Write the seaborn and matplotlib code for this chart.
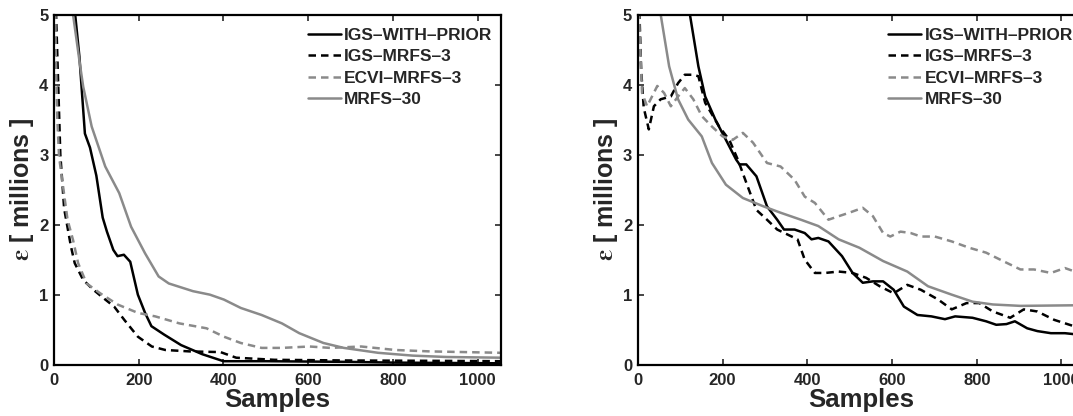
import numpy as np
import pandas as pd
import matplotlib
matplotlib.use('Agg')
import matplotlib.pyplot as plt
import seaborn as sns

# ---- data (values in millions) ----
series_names = ['IGS–WITH–PRIOR', 'IGS–MRFS–3', 'ECVI–MRFS–3', 'MRFS–30']

# left panel
left_igs_prior_x = [40, 50, 60, 73, 85, 100, 115, 125, 140, 150, 165, 180, 198, 215, 230, 260, 300, 350, 400, 500, 700, 800, 1055]
left_igs_prior_y = [6.0, 5.0, 4.4, 3.3, 3.1, 2.7, 2.1, 1.9, 1.64, 1.55, 1.57, 1.47, 1.0, 0.74, 0.55, 0.43, 0.28, 0.15, 0.05, 0.05, 0.04, 0.03, 0.02]

left_igs_mrfs_x = [3, 5, 10, 15, 24, 40, 49, 69, 93, 117, 142, 166, 198, 231, 263, 320, 393, 430, 520, 700, 900, 1055]
left_igs_mrfs_y = [6.0, 5.0, 4.0, 3.0, 2.23, 1.69, 1.45, 1.21, 1.07, 0.95, 0.83, 0.64, 0.40, 0.26, 0.21, 0.19, 0.18, 0.10, 0.07, 0.06, 0.055, 0.05]

left_ecvi_x = [2, 4, 8, 12, 32, 45, 57, 77, 109, 150, 198, 239, 296, 360, 401, 441, 490, 538, 603, 652, 725, 806, 887, 1055]
left_ecvi_y = [6.0, 4.5, 3.5, 2.97, 2.07, 1.78, 1.45, 1.16, 1.02, 0.86, 0.74, 0.69, 0.59, 0.52, 0.40, 0.31, 0.24, 0.24, 0.26, 0.24, 0.26, 0.21, 0.19, 0.17]

left_mrfs30_x = [38, 45, 61, 69, 89, 121, 154, 182, 215, 247, 271, 328, 368, 401, 441, 490, 538, 579, 636, 684, 765, 846, 927, 1055]
left_mrfs30_y = [6.0, 5.0, 4.3, 3.97, 3.4, 2.83, 2.45, 1.97, 1.59, 1.26, 1.16, 1.05, 1.0, 0.93, 0.81, 0.71, 0.59, 0.45, 0.31, 0.24, 0.17, 0.13, 0.11, 0.10]

# right panel
right_igs_prior_x = [115, 123, 143, 159, 183, 208, 232, 240, 256, 280, 305, 329, 345, 370, 394, 410, 426, 450, 482, 507,
                     531, 555, 579, 604, 628, 660, 693, 725, 749, 790, 822, 846, 870, 890, 919, 943, 975, 1008, 1055]
right_igs_prior_y = [5.6, 5.0, 4.26, 3.83, 3.5, 3.21, 2.93, 2.86, 2.86, 2.69, 2.26, 2.07, 1.93, 1.93, 1.88, 1.79, 1.81, 1.76, 1.55, 1.31,
                     1.17, 1.19, 1.19, 1.07, 0.83, 0.71, 0.69, 0.65, 0.69, 0.67, 0.62, 0.57, 0.58, 0.62, 0.52, 0.48, 0.45, 0.45, 0.42]

right_igs_mrfs_x = [0, 4, 8, 14, 26, 38, 54, 78, 95, 111, 127, 143, 159, 192, 216, 236, 256, 280, 305, 329, 353, 377, 394, 418,
                    442, 474, 507, 539, 571, 604, 636, 668, 709, 741, 776, 806, 838, 879, 911, 943, 983, 1055]
right_igs_mrfs_y = [6.0, 5.0, 4.2, 3.67, 3.36, 3.69, 3.79, 3.83, 4.02, 4.14, 4.14, 4.12, 3.74, 3.40, 3.21, 2.93, 2.6, 2.21, 2.07, 1.93, 1.86, 1.79, 1.5, 1.31,
                    1.31, 1.33, 1.31, 1.24, 1.12, 1.02, 1.14, 1.07, 0.93, 0.79, 0.88, 0.88, 0.76, 0.67, 0.79, 0.76, 0.64, 0.50]

right_ecvi_x = [0, 4, 10, 22, 46, 62, 78, 95, 111, 131, 151, 175, 200, 224, 248, 272, 305, 337, 370, 394, 418, 450, 474, 499,
                531, 555, 579, 596, 620, 644, 668, 701, 741, 782, 822, 862, 903, 935, 975, 1008, 1055]
right_ecvi_y = [6.0, 4.8, 3.88, 3.69, 3.98, 3.88, 3.69, 3.83, 3.95, 3.79, 3.55, 3.40, 3.26, 3.21, 3.31, 3.17, 2.88, 2.83, 2.64, 2.4, 2.31, 2.07, 2.12, 2.17,
                2.24, 2.12, 1.88, 1.83, 1.9, 1.88, 1.83, 1.83, 1.76, 1.67, 1.6, 1.48, 1.36, 1.36, 1.31, 1.38, 1.28]

right_mrfs30_x = [45, 54, 74, 95, 119, 151, 175, 208, 248, 297, 337, 385, 426, 474, 523, 579, 636, 685, 741, 790, 838, 903, 1055]
right_mrfs30_y = [5.6, 5.0, 4.26, 3.79, 3.5, 3.26, 2.88, 2.57, 2.38, 2.26, 2.17, 2.07, 1.98, 1.79, 1.67, 1.48, 1.33, 1.12, 1.0, 0.9, 0.86, 0.84, 0.85]

x_ticks = [0, 200, 400, 600, 800, 1000]
y_ticks = [0, 1, 2, 3, 4, 5]

panels = [
    [(left_igs_prior_x, left_igs_prior_y), (left_igs_mrfs_x, left_igs_mrfs_y),
     (left_ecvi_x, left_ecvi_y), (left_mrfs30_x, left_mrfs30_y)],
    [(right_igs_prior_x, right_igs_prior_y), (right_igs_mrfs_x, right_igs_mrfs_y),
     (right_ecvi_x, right_ecvi_y), (right_mrfs30_x, right_mrfs30_y)],
]

# ---- styling ----
sns.set_style('ticks')
plt.rcParams['font.family'] = ['Liberation Sans', 'DejaVu Sans']
plt.rcParams['font.weight'] = 'bold'
plt.rcParams['mathtext.fontset'] = 'stix'
plt.rcParams['xtick.direction'] = 'in'
plt.rcParams['ytick.direction'] = 'in'

GRAY = '#8a8a8a'
line_styles = [
    dict(color='black', dashes=None),
    dict(color='black', dashes=(3, 2)),
    dict(color=GRAY, dashes=(3, 2)),
    dict(color=GRAY, dashes=None),
]

fig = plt.figure(figsize=(10.73, 4.16), dpi=100)
ax_pos = [[0.0503, 0.1233, 0.4166, 0.8418],
          [0.5944, 0.1233, 0.4166, 0.8418]]
legend_anchor = [(0.568, 0.962), (0.560, 0.962)]

for p, curves in enumerate(panels):
    ax = fig.add_axes(ax_pos[p])
    for (xs, ys), name, st in zip(curves, series_names, line_styles):
        df = pd.DataFrame({'x': xs, 'y': ys})
        sns.lineplot(data=df, x='x', y='y', ax=ax, color=st['color'], lw=1.8,
                     estimator=None, label=name)
        l = ax.get_lines()[-1]
        if st['dashes'] is not None:
            l.set_dashes(st['dashes'])
    ax.set_xlim(0, 1055)
    ax.set_ylim(0, 5)
    ax.set_xticks(x_ticks)
    ax.set_yticks(y_ticks)
    ax.tick_params(axis='both', which='both', top=True, right=True, length=4, width=1.2,
                   labelsize=12, pad=4)
    ax.tick_params(axis='x', pad=6)
    for lab in ax.get_xticklabels() + ax.get_yticklabels():
        lab.set_fontweight('bold')
    for s in ax.spines.values():
        s.set_linewidth(1.6)
        s.set_color('black')
    ax.set_xlabel('Samples', fontsize=18.5, fontweight='bold', labelpad=0)
    ax.set_ylabel(r'$\mathrm{\varepsilon}$ [ millions ]', fontsize=18, fontweight='bold', labelpad=2)
    ax.legend(loc='upper left', bbox_to_anchor=legend_anchor[p], frameon=False,
              handlelength=1.9, handletextpad=0.2, labelspacing=0.36, borderaxespad=0, borderpad=0,
              prop={'weight': 'bold', 'size': 12.5})

fig.savefig('out.png', dpi=100, facecolor='white')
